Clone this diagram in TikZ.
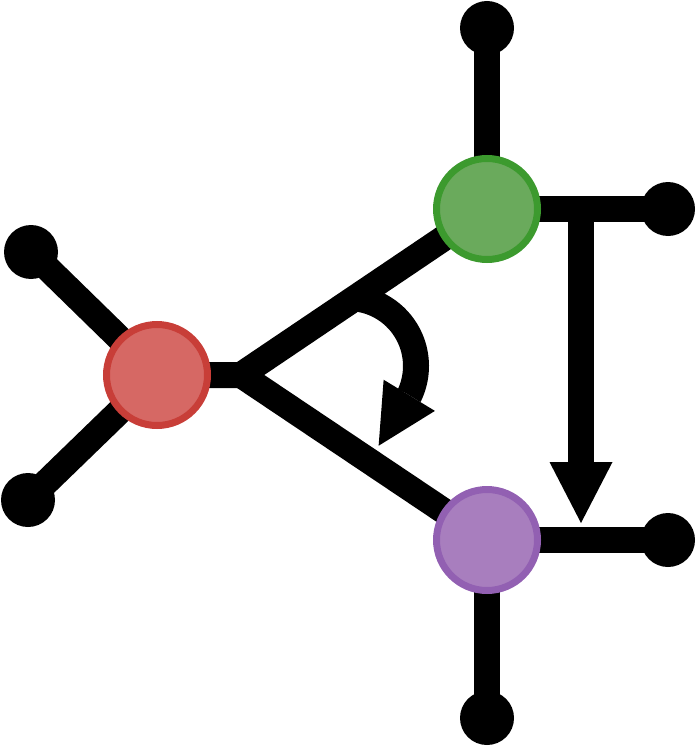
\documentclass[tikz,border=0pt]{standalone}
\usetikzlibrary{arrows.meta,backgrounds}
\definecolor{redfill}{RGB}{214,104,100}
\definecolor{redline}{RGB}{200,62,56}
\definecolor{greenfill}{RGB}{106,170,92}
\definecolor{greenline}{RGB}{60,154,46}
\definecolor{purplefill}{RGB}{168,126,190}
\definecolor{purpleline}{RGB}{146,96,178}
\begin{document}
\begin{tikzpicture}[x=1pt, y=-1pt, vertex/.style = {draw, circle, line width=7pt, inner sep=0pt, minimum size=101pt},
			dot/.style = {circle, fill=black, inner sep=0pt, minimum size=54pt},
			bond/.style = {line width=26pt}]
			
			\useasboundingbox (0,0) rectangle (697,746);
			
			\node[vertex, draw=redline, fill=redfill] (r) at (157,375) {};
			\node[vertex, draw=greenline, fill=greenfill] (g) at (487,209) {};
			\node[vertex, draw=purpleline, fill=purplefill] (p) at (487,540) {};
			\node[dot] (r1) at (31,252) {};
			\node[dot] (r2) at (28,500) {};
			\node[dot] (g1) at (487,28) {};
			\node[dot] (g2) at (668,209) {};
			\node[dot] (p1) at (668,540) {};
			\node[dot] (p2) at (487,718) {};
			\coordinate (fork) at (241,375);
			
			\begin{scope}[on background layer]
				\draw[bond] (r.center) -- (fork) -- (g.center);
				\draw[bond] (fork) -- (p.center);
				\draw[bond] (r1.center) -- (r.center) -- (r2.center);
				\draw[bond] (g1.center) -- (g.center) -- (g2.center);
				\draw[bond] (p2.center) -- (p.center) -- (p1.center);
			\end{scope}
			
			\coordinate (flipstart) at (581,209);
			\coordinate (flipend) at (581,523);
			\draw[bond, -{Triangle[length=61pt, width=63pt, line width=0pt]}] (flipstart) -- (flipend);
			
			\coordinate (spin) at (348,366);
			\draw[bond, -{Triangle[length=59pt, width=60pt, line width=0pt]}] ([shift={(-80:68)}]spin) arc[start angle=-80, end angle=25, radius=68] -- ++(-31,51);
		\end{tikzpicture}
\end{document}
